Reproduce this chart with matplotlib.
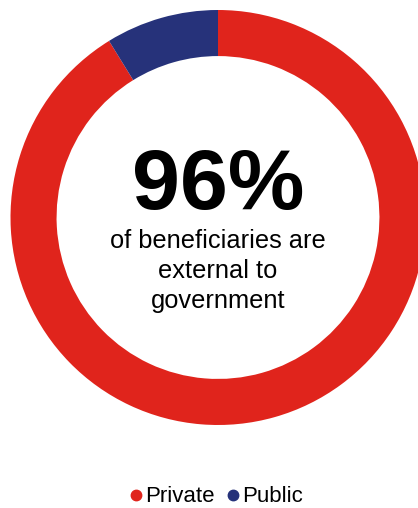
import matplotlib.pyplot as plt
from matplotlib.lines import Line2D

labels = ['Private', 'Public']
shares = [91.2, 8.8]
colors = ['#E0241C', '#26327A']
headline = '96%'
sub_lines = ['of beneficiaries are', 'external to', 'government']

W, H = 418, 508
fig = plt.figure(figsize=(W / 100, H / 100), dpi=100)

# donut centre (218, 217.5) px, outer radius ~207.5 px
cx, cy, r = 218, 217.5, 207.5
ax = fig.add_axes([(cx - r) / W, (H - cy - r) / H, 2 * r / W, 2 * r / H])
ax.pie(shares, colors=colors, startangle=90, counterclock=False, radius=1,
       wedgeprops=dict(width=0.222, linewidth=0))
ax.set_xlim(-1, 1)
ax.set_ylim(-1, 1)
ax.set_aspect('equal')
ax.axis('off')

fig.text(cx / W, (H - 209) / H, headline, ha='center', va='baseline',
         fontsize=62, fontweight='bold', family='Liberation Sans')
for i, line in enumerate(sub_lines):
    fig.text(cx / W, (H - 248 - 30 * i) / H, line, ha='center', va='baseline',
             fontsize=18.3, family='Liberation Sans')

handles = [Line2D([], [], marker='o', linestyle='none', markersize=7.5,
                  markerfacecolor=c, markeredgecolor=c) for c in colors]
fig.legend(handles, labels, loc='center', bbox_to_anchor=(214 / W, (H - 497) / H),
           ncol=2, frameon=False, handletextpad=-0.1, columnspacing=0.35,
           handlelength=1.0, prop={'family': 'Liberation Sans', 'size': 16})

fig.savefig('out.png', dpi=100)
